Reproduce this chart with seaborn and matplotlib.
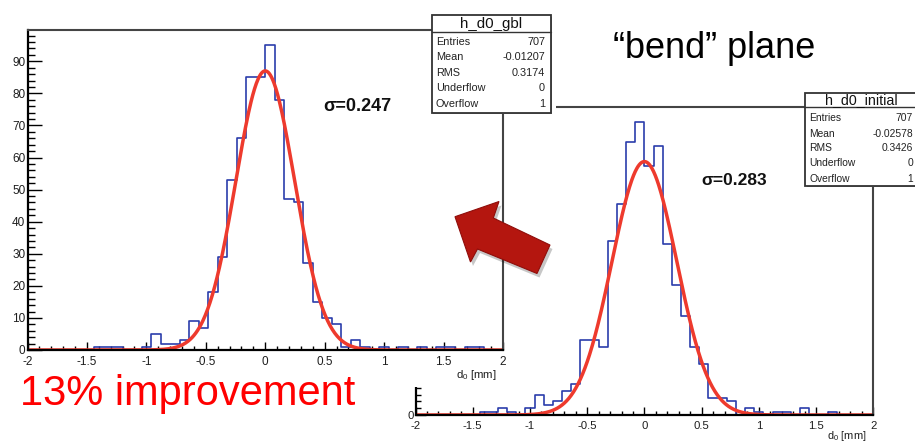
import numpy as np
import pandas as pd
import matplotlib
matplotlib.use("Agg")
import matplotlib.pyplot as plt
import matplotlib.transforms as mtransforms
from matplotlib.patches import Rectangle, Polygon
from matplotlib.ticker import MultipleLocator, FormatStrFormatter
import seaborn as sns

# ---------------- data ----------------
bin_edges = np.linspace(-2.0, 2.0, 51)          # 50 bins of width 0.08
bin_centers = (bin_edges[:-1] + bin_edges[1:]) / 2

gbl_counts = [0, 0, 0, 0, 0, 0, 0, 1, 1, 1,
              0, 0, 1, 5, 2, 2, 3, 9, 7, 18,
              29, 53, 66, 85, 85, 95, 78, 47, 46, 27,
              15, 10, 8, 1, 3, 1, 0, 1, 0, 1,
              0, 1, 0, 1, 1, 0, 1, 1, 0, 0]
initial_counts = [0, 0, 0, 0, 0, 0, 0, 1, 1, 2,
                  1, 0, 2, 6, 3, 4, 7, 9, 22, 22,
                  20, 51, 62, 80, 86, 73, 79, 50, 38, 29,
                  20, 15, 5, 5, 4, 0, 2, 1, 0, 1,
                  1, 0, 2, 0, 0, 1, 0, 0, 0, 0]

gbl_fit = {"amp": 87.0, "mean": 0.0, "sigma": 0.247}
initial_fit = {"amp": 74.3, "mean": 0.0, "sigma": 0.283}

gbl_stats = [("Entries", "707"), ("Mean", "-0.01207"), ("RMS", "0.3174"),
             ("Underflow", "0"), ("Overflow", "1")]
initial_stats = [("Entries", "707"), ("Mean", "-0.02578"), ("RMS", "0.3426"),
                 ("Underflow", "0"), ("Overflow", "1")]

x_ticks = [-2, -1.5, -1, -0.5, 0, 0.5, 1, 1.5, 2]

# ---------------- style ----------------
sns.set_theme(style="white")
plt.rcParams["font.family"] = ["Liberation Sans", "DejaVu Sans"]
plt.rcParams["axes.unicode_minus"] = False
plt.rcParams["mathtext.fontset"] = "custom"
plt.rcParams["mathtext.rm"] = "Liberation Sans"

W, H = 915, 443
fig = plt.figure(figsize=(W / 100, H / 100), dpi=100)
fig.patch.set_facecolor("white")
px = mtransforms.Affine2D().scale(1 / W, -1 / H).translate(0, 1) + fig.transFigure

BLUE = "#2b3dab"
RED = "#ee3a2d"


def fig_rect(x0, y0, x1, y1):
    l = x0 / W
    b = 1 - y1 / H
    return [l, b, (x1 - x0) / W, (y1 - y0) / H]


def draw_panel(ax, counts, fit, ymax, ylen_major, ylen_minor, fs, xl_pad):
    df = pd.DataFrame({"d0": bin_centers, "n": counts})
    sns.histplot(data=df, x="d0", weights="n", bins=bin_edges.tolist(), element="step",
                 fill=False, color=BLUE, linewidth=1.2, ax=ax)
    xf = np.linspace(-2, 2, 801)
    yf = fit["amp"] * np.exp(-0.5 * ((xf - fit["mean"]) / fit["sigma"]) ** 2)
    sns.lineplot(x=xf, y=yf, color=RED, linewidth=2.5, ax=ax)
    ax.set_xlim(-2, 2)
    ax.set_ylim(0, ymax)
    ax.set_ylabel("")
    ax.set_xticks(x_ticks)
    ax.xaxis.set_major_formatter(FormatStrFormatter("%g"))
    ax.xaxis.set_minor_locator(MultipleLocator(0.1))
    ax.yaxis.set_major_locator(MultipleLocator(10))
    ax.yaxis.set_minor_locator(MultipleLocator(2))
    ax.tick_params(axis="both", which="both", direction="in", top=False, right=False,
                   bottom=True, left=True, color="black", labelcolor="#1e1e1e",
                   labelsize=fs, width=1.0)
    ax.tick_params(axis="x", which="major", length=5.8, pad=4.3)
    ax.tick_params(axis="x", which="minor", length=2.9)
    ax.tick_params(axis="y", which="major", length=ylen_major, pad=1.5)
    ax.tick_params(axis="y", which="minor", length=ylen_minor)
    for s in ["left", "bottom"]:
        ax.spines[s].set_color("black")
        ax.spines[s].set_linewidth(1.6)
    for s in ["top", "right"]:
        ax.spines[s].set_color("#444444")
        ax.spines[s].set_linewidth(1.5)
    ax.set_xlabel(r"d$_{\mathregular{0}}$ [mm]", loc="right", fontsize=fs - 0.3,
                  labelpad=xl_pad, color="#1e1e1e")
    ax.xaxis.label.set_x(0.986)


def stats_box(x0, y0, x1, ydiv, y1, title, rows, fs_title, fs_row, lab_x, val_x, row_ys):
    fig.add_artist(Rectangle((x0 + 1.5, y0 + 1.5), x1 - x0, y1 - y0, transform=px,
                             facecolor="#9a9a9a", edgecolor="none", zorder=5))
    fig.add_artist(Rectangle((x0, y0), x1 - x0, y1 - y0, transform=px,
                             facecolor="white", edgecolor="#333333", linewidth=1.3, zorder=6))
    fig.add_artist(plt.Line2D([x0, x1], [ydiv, ydiv], transform=px, color="#333333",
                              linewidth=1.0, zorder=7))
    fig.text((x0 + x1) / 2, (y0 + ydiv) / 2 + 0.5, title, transform=px, ha="center",
             va="center", fontsize=fs_title, color="#111111", zorder=8)
    for (lab, val), yy in zip(rows, row_ys):
        fig.text(lab_x, yy, lab, transform=px, ha="left", va="center",
                 fontsize=fs_row, color="#222222", zorder=8)
        fig.text(val_x, yy, val, transform=px, ha="right", va="center",
                 fontsize=fs_row, color="#222222", zorder=8)


# ---------------- panel 2 (initial, underneath) ----------------
ax2 = fig.add_axes(fig_rect(415.5, 107, 873.3, 415))
ax2.set_zorder(0)
draw_panel(ax2, initial_counts, initial_fit, 1.05 * max(initial_counts), 7, 3.6, 8.2, -1.5)
ax2.text(701.7, 185, "\u03c3=0.283", transform=px, fontsize=12.5, fontweight="bold",
         ha="left", va="baseline", color="#111111")

# white cover of panel-1 picture
fig.add_artist(Rectangle((0, 0), 556, 387, transform=px, facecolor="white",
                         edgecolor="none", zorder=0.5))

# ---------------- panel 1 (gbl, on top) ----------------
ax1 = fig.add_axes(fig_rect(27.5, 30, 503, 350))
ax1.set_zorder(1)
draw_panel(ax1, gbl_counts, gbl_fit, 1.05 * max(gbl_counts), 10, 5, 8.5, 0.0)
ax1.text(323, 111, "\u03c3=0.247", transform=px, fontsize=13, fontweight="bold",
         ha="left", va="baseline", color="#111111")

# stats boxes
stats_box(431.7, 15, 550.7, 31.7, 112.7, "h_d0_gbl", gbl_stats, 10.8, 7.8,
          436, 545, [41.7, 57.3, 73.3, 88.3, 104.3])
stats_box(805, 93.3, 918.5, 106.7, 186, "h_d0_initial", initial_stats, 10.3, 7.4,
          809.5, 913, [118.3, 134, 148.3, 163.3, 179])

# red arrow
arrow_pts = [(455, 216.7), (499, 201.5), (493.3, 218), (550, 245),
             (537, 273.5), (477.5, 249), (470.5, 262)]
shadow_pts = [(x + 2.5, y + 4) for x, y in arrow_pts]
fig.add_artist(Polygon(shadow_pts, closed=True, transform=px, facecolor="#000000",
                       alpha=0.22, edgecolor="none", zorder=9))
fig.add_artist(Polygon(arrow_pts, closed=True, transform=px, facecolor="#b4160f",
                       edgecolor="#8f0d0a", linewidth=0.8, zorder=10))

# annotations
fig.text(613, 58.3, "\u201cbend\u201d plane", transform=px, fontsize=26, ha="left",
         va="baseline", color="black", zorder=11)
fig.text(20, 405, "13% improvement", transform=px, fontsize=30, ha="left",
         va="baseline", color="#ff0000", zorder=11)

fig.savefig("out.png", dpi=100)
